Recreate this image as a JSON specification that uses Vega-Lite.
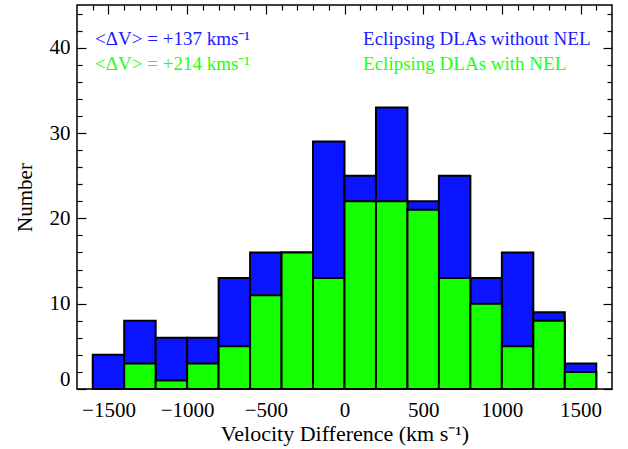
{
  "$schema": "https://vega.github.io/schema/vega-lite/v6.json",
  "width": 535,
  "height": 384,
  "autosize": {"type": "none"},
  "padding": {"left": 77, "top": 5, "right": 16, "bottom": 60},
  "background": "white",
  "config": {
    "view": {"stroke": "black", "strokeWidth": 1.5},
    "font": "Liberation Serif",
    "axis": {"labelFont": "Liberation Serif", "titleFont": "Liberation Serif", "labelColor": "black", "titleColor": "black", "titleFontWeight": "normal", "grid": false, "tickColor": "black"}
  },
  "data": {"values": [
    {"lo": -1600, "hi": -1400, "without_nel": 4, "with_nel": 0},
    {"lo": -1400, "hi": -1200, "without_nel": 8, "with_nel": 3},
    {"lo": -1200, "hi": -1000, "without_nel": 6, "with_nel": 1},
    {"lo": -1000, "hi": -800, "without_nel": 6, "with_nel": 3},
    {"lo": -800, "hi": -600, "without_nel": 13, "with_nel": 5},
    {"lo": -600, "hi": -400, "without_nel": 16, "with_nel": 11},
    {"lo": -400, "hi": -200, "without_nel": 16, "with_nel": 16},
    {"lo": -200, "hi": 0, "without_nel": 29, "with_nel": 13},
    {"lo": 0, "hi": 200, "without_nel": 25, "with_nel": 22},
    {"lo": 200, "hi": 400, "without_nel": 33, "with_nel": 22},
    {"lo": 400, "hi": 600, "without_nel": 22, "with_nel": 21},
    {"lo": 600, "hi": 800, "without_nel": 25, "with_nel": 13},
    {"lo": 800, "hi": 1000, "without_nel": 13, "with_nel": 10},
    {"lo": 1000, "hi": 1200, "without_nel": 16, "with_nel": 5},
    {"lo": 1200, "hi": 1400, "without_nel": 9, "with_nel": 8},
    {"lo": 1400, "hi": 1600, "without_nel": 3, "with_nel": 2}
  ]},
  "resolve": {"scale": {"x": "independent", "y": "independent"}},
  "layer": [
    {
      "mark": {"type": "bar", "fill": "#0a14ff", "stroke": "black", "strokeWidth": 2},
      "encoding": {
        "x": {"field": "lo", "type": "quantitative", "scale": {"domain": [-1700, 1700], "nice": false, "zero": false},
          "axis": {"orient": "bottom", "values": [-1500, -1000, -500, 0, 500, 1000, 1500], "format": "d", "ticks": false, "domain": false, "labelFontSize": 21, "labelPadding": 10, "title": "Velocity Difference (km s⁻¹)", "titleFontSize": 22, "titlePadding": 3}},
        "x2": {"field": "hi"},
        "y": {"field": "without_nel", "type": "quantitative", "scale": {"domain": [0, 45], "nice": false},
          "axis": {"orient": "left", "values": [0, 10, 20, 30, 40], "format": "d", "ticks": false, "domain": false, "labelFontSize": 21, "labelPadding": 7, "labelFlush": true, "title": "Number", "titleFontSize": 21, "titlePadding": 14}},
        "y2": {"datum": 0}
      }
    },
    {
      "mark": {"type": "bar", "fill": "#14ff00", "stroke": "black", "strokeWidth": 2},
      "encoding": {
        "x": {"field": "lo", "type": "quantitative", "scale": {"domain": [-1700, 1700], "nice": false, "zero": false}, "axis": null},
        "x2": {"field": "hi"},
        "y": {"field": "with_nel", "type": "quantitative", "scale": {"domain": [0, 45], "nice": false}, "axis": null},
        "y2": {"datum": 0}
      }
    },
    {
      "mark": {"type": "point", "opacity": 0},
      "encoding": {
        "x": {"field": "lo", "type": "quantitative", "scale": {"domain": [-1700, 1700], "nice": false, "zero": false},
          "axis": {"orient": "bottom", "values": [-1500, -1000, -500, 0, 500, 1000, 1500], "labels": false, "domain": false, "tickSize": 9, "offset": -9, "tickWidth": 1.2, "title": null}},
        "y": {"field": "without_nel", "type": "quantitative", "scale": {"domain": [0, 45], "nice": false},
          "axis": {"orient": "left", "values": [0, 10, 20, 30, 40], "labels": false, "domain": false, "tickSize": 9, "offset": -9, "tickWidth": 1.2, "title": null}}
      }
    },
    {
      "mark": {"type": "point", "opacity": 0},
      "encoding": {
        "x": {"field": "lo", "type": "quantitative", "scale": {"domain": [-1700, 1700], "nice": false, "zero": false},
          "axis": {"orient": "bottom", "values": [-1600, -1400, -1300, -1200, -1100, -900, -800, -700, -600, -400, -300, -200, -100, 100, 200, 300, 400, 600, 700, 800, 900, 1100, 1200, 1300, 1400, 1600], "labels": false, "domain": false, "tickSize": 5, "offset": -5, "tickWidth": 1.2, "title": null}},
        "y": {"field": "without_nel", "type": "quantitative", "scale": {"domain": [0, 45], "nice": false},
          "axis": {"orient": "left", "values": [2, 4, 6, 8, 12, 14, 16, 18, 22, 24, 26, 28, 32, 34, 36, 38, 42, 44], "labels": false, "domain": false, "tickSize": 5, "offset": -5, "tickWidth": 1.2, "title": null}}
      }
    },
    {
      "mark": {"type": "point", "opacity": 0},
      "encoding": {
        "x": {"field": "lo", "type": "quantitative", "scale": {"domain": [-1700, 1700], "nice": false, "zero": false},
          "axis": {"orient": "top", "values": [-1500, -1000, -500, 0, 500, 1000, 1500], "labels": false, "domain": false, "tickSize": 9, "offset": -9, "tickWidth": 1.2, "title": null}},
        "y": {"field": "without_nel", "type": "quantitative", "scale": {"domain": [0, 45], "nice": false},
          "axis": {"orient": "right", "values": [0, 10, 20, 30, 40], "labels": false, "domain": false, "tickSize": 9, "offset": -9, "tickWidth": 1.2, "title": null}}
      }
    },
    {
      "mark": {"type": "point", "opacity": 0},
      "encoding": {
        "x": {"field": "lo", "type": "quantitative", "scale": {"domain": [-1700, 1700], "nice": false, "zero": false},
          "axis": {"orient": "top", "values": [-1600, -1400, -1300, -1200, -1100, -900, -800, -700, -600, -400, -300, -200, -100, 100, 200, 300, 400, 600, 700, 800, 900, 1100, 1200, 1300, 1400, 1600], "labels": false, "domain": false, "tickSize": 5, "offset": -5, "tickWidth": 1.2, "title": null}},
        "y": {"field": "without_nel", "type": "quantitative", "scale": {"domain": [0, 45], "nice": false},
          "axis": {"orient": "right", "values": [2, 4, 6, 8, 12, 14, 16, 18, 22, 24, 26, 28, 32, 34, 36, 38, 42, 44], "labels": false, "domain": false, "tickSize": 5, "offset": -5, "tickWidth": 1.2, "title": null}}
      }
    },
    {
      "data": {"values": [{"label": "<ΔV> = +137 kms⁻¹"}]},
      "mark": {"type": "text", "align": "left", "baseline": "alphabetic", "fontSize": 19, "color": "#1a1aff", "font": "Liberation Serif"},
      "encoding": {
        "text": {"field": "label"},
        "x": {"datum": -1585, "type": "quantitative", "scale": {"domain": [-1700, 1700], "nice": false, "zero": false}, "axis": null},
        "y": {"datum": 40.3, "type": "quantitative", "scale": {"domain": [0, 45], "nice": false}, "axis": null}
      }
    },
    {
      "data": {"values": [{"label": "<ΔV> = +214 kms⁻¹"}]},
      "mark": {"type": "text", "align": "left", "baseline": "alphabetic", "fontSize": 19, "color": "#22ff11", "font": "Liberation Serif"},
      "encoding": {
        "text": {"field": "label"},
        "x": {"datum": -1585, "type": "quantitative", "scale": {"domain": [-1700, 1700], "nice": false, "zero": false}, "axis": null},
        "y": {"datum": 37.4, "type": "quantitative", "scale": {"domain": [0, 45], "nice": false}, "axis": null}
      }
    },
    {
      "data": {"values": [{"label": "Eclipsing DLAs without NEL"}]},
      "mark": {"type": "text", "align": "left", "baseline": "alphabetic", "fontSize": 19, "color": "#1a1aff", "font": "Liberation Serif"},
      "encoding": {
        "text": {"field": "label"},
        "x": {"datum": 118, "type": "quantitative", "scale": {"domain": [-1700, 1700], "nice": false, "zero": false}, "axis": null},
        "y": {"datum": 40.3, "type": "quantitative", "scale": {"domain": [0, 45], "nice": false}, "axis": null}
      }
    },
    {
      "data": {"values": [{"label": "Eclipsing DLAs with NEL"}]},
      "mark": {"type": "text", "align": "left", "baseline": "alphabetic", "fontSize": 19, "color": "#22ff11", "font": "Liberation Serif"},
      "encoding": {
        "text": {"field": "label"},
        "x": {"datum": 118, "type": "quantitative", "scale": {"domain": [-1700, 1700], "nice": false, "zero": false}, "axis": null},
        "y": {"datum": 37.4, "type": "quantitative", "scale": {"domain": [0, 45], "nice": false}, "axis": null}
      }
    }
  ]
}
